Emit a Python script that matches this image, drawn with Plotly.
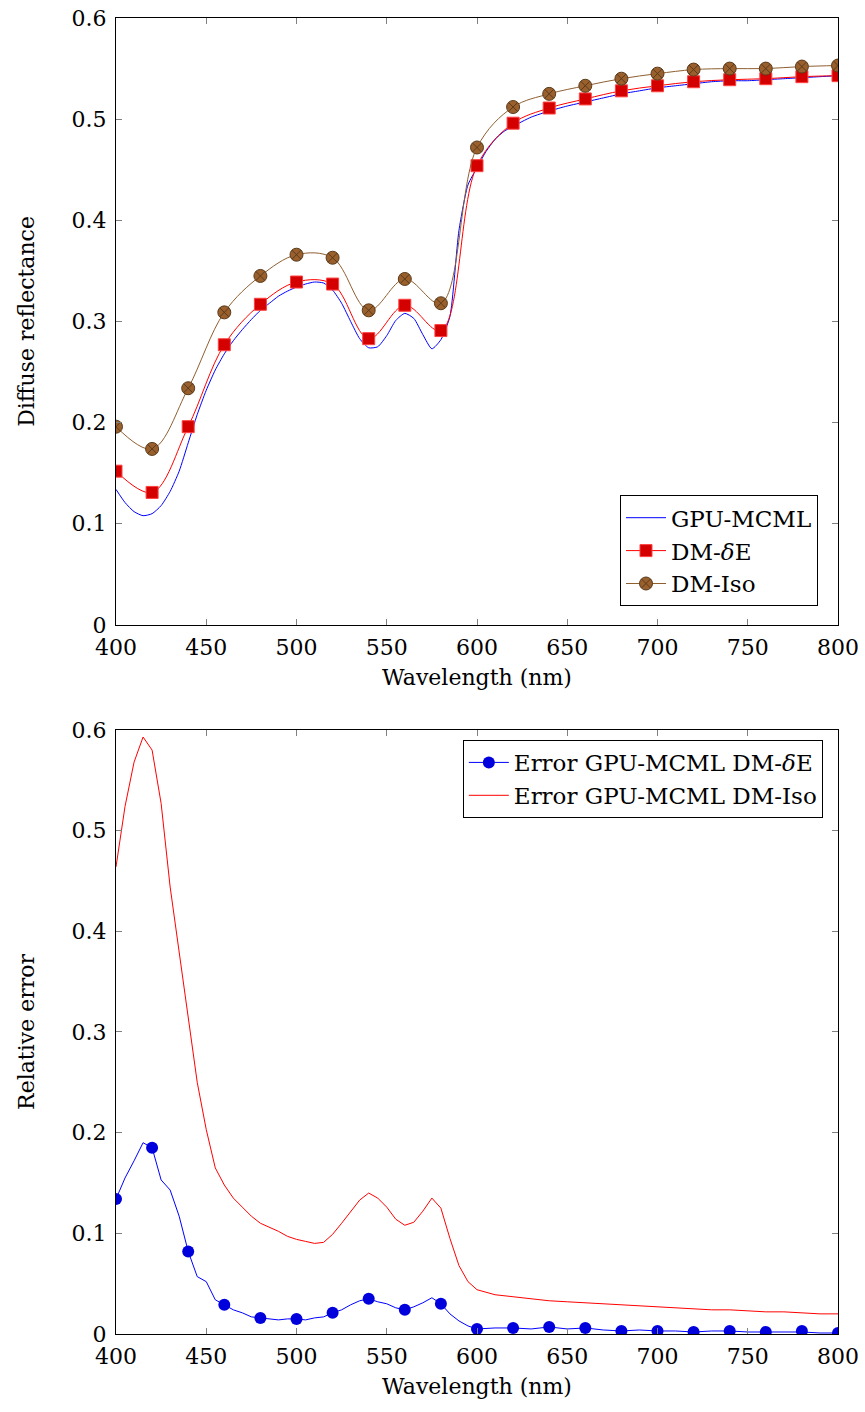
import plotly.graph_objects as go
from plotly.subplots import make_subplots

# ---------------- data ----------------
wl_marks = [400, 420, 440, 460, 480, 500, 520, 540, 560, 580, 600,
            620, 640, 660, 680, 700, 720, 740, 760, 780, 800]
dm_de = [0.152, 0.131, 0.196, 0.277, 0.317, 0.339, 0.337, 0.283, 0.316, 0.291, 0.454,
         0.496, 0.511, 0.520, 0.528, 0.533, 0.537, 0.539, 0.540, 0.542, 0.543]
dm_iso = [0.196, 0.174, 0.234, 0.309, 0.345, 0.366, 0.363, 0.311, 0.342, 0.318, 0.472,
          0.512, 0.525, 0.533, 0.540, 0.545, 0.549, 0.550, 0.550, 0.552, 0.553]

wl_fine = [400, 405, 410, 415, 420, 425, 430, 435, 440, 445, 450, 455, 460, 465, 470,
           475, 480, 485, 490, 495, 500, 505, 510, 515, 520, 525, 530, 535, 540, 545,
           550, 555, 560, 565, 570, 575, 580, 585, 590, 595, 600, 605, 610, 615, 620,
           630, 640, 650, 660, 670, 680, 690, 700, 710, 720, 730, 740, 750, 760, 770,
           780, 790, 800]
gpu_mcml = [0.134, 0.121, 0.112, 0.108, 0.110, 0.118, 0.132, 0.152, 0.180, 0.208,
            0.232, 0.252, 0.268, 0.281, 0.292, 0.302, 0.311, 0.318, 0.325, 0.330,
            0.334, 0.337, 0.339, 0.338, 0.331, 0.318, 0.300, 0.283, 0.274, 0.275,
            0.286, 0.301, 0.308, 0.303, 0.287, 0.273, 0.282, 0.305, 0.390, 0.435,
            0.452, 0.468, 0.480, 0.488, 0.493, 0.502, 0.508, 0.513, 0.517, 0.521,
            0.525, 0.528, 0.531, 0.533, 0.535, 0.537, 0.538, 0.538, 0.539, 0.540,
            0.541, 0.542, 0.543]

wl_err = [400, 405, 410, 415, 420, 425, 430, 435, 440, 445, 450, 455, 460, 465, 470,
          475, 480, 485, 490, 495, 500, 505, 510, 515, 520, 525, 530, 535, 540, 545,
          550, 555, 560, 565, 570, 575, 580, 585, 590, 595, 600, 610, 620, 630, 640,
          650, 660, 670, 680, 690, 700, 710, 720, 730, 740, 750, 760, 770, 780, 790, 800]
err_de = [0.134, 0.155, 0.172, 0.190, 0.185, 0.153, 0.143, 0.117, 0.082, 0.057,
          0.052, 0.034, 0.029, 0.024, 0.021, 0.017, 0.016, 0.015, 0.014, 0.015,
          0.015, 0.014, 0.016, 0.017, 0.021, 0.024, 0.029, 0.033, 0.035, 0.032,
          0.030, 0.026, 0.024, 0.027, 0.031, 0.036, 0.030, 0.020, 0.013, 0.008,
          0.005, 0.006, 0.006, 0.005, 0.007, 0.005, 0.006, 0.004, 0.003, 0.004,
          0.003, 0.003, 0.002, 0.003, 0.003, 0.002, 0.002, 0.002, 0.002, 0.001, 0.001]
err_iso = [0.464, 0.524, 0.568, 0.593, 0.580, 0.527, 0.444, 0.378, 0.312, 0.250,
           0.203, 0.165, 0.148, 0.135, 0.126, 0.117, 0.110, 0.106, 0.102, 0.097,
           0.094, 0.092, 0.090, 0.091, 0.099, 0.110, 0.121, 0.133, 0.140, 0.135,
           0.126, 0.114, 0.108, 0.111, 0.122, 0.135, 0.125, 0.095, 0.068, 0.052,
           0.044, 0.039, 0.037, 0.035, 0.033, 0.032, 0.031, 0.030, 0.029, 0.028,
           0.027, 0.026, 0.025, 0.024, 0.024, 0.023, 0.022, 0.022, 0.021, 0.020, 0.020]
err_de_marks = [0.134, 0.185, 0.082, 0.029, 0.016, 0.015, 0.021, 0.035, 0.024, 0.030,
                0.005, 0.006, 0.007, 0.006, 0.003, 0.003, 0.002, 0.003, 0.002, 0.003, 0.001]

x_ticks = [400, 450, 500, 550, 600, 650, 700, 750, 800]
x_ticklabels = ["400", "450", "500", "550", "600", "650", "700", "750", "800"]
y_ticks = [0, 0.1, 0.2, 0.3, 0.4, 0.5, 0.6]
y_ticklabels = ["0", "0.1", "0.2", "0.3", "0.4", "0.5", "0.6"]

# ---------------- figure ----------------
FONT = "DejaVu Serif"
FS = 22
FL = 23
BLUE = "#0000ff"
RED = "#ff0000"
BROWN = "#8f5f30"

fig = make_subplots(rows=2, cols=1)

# Top panel
fig.add_trace(go.Scatter(x=wl_fine, y=gpu_mcml, mode="lines", name="GPU-MCML",
                         line=dict(color=BLUE, width=1, shape="spline", smoothing=0.6),
                         legend="legend"), row=1, col=1)
fig.add_trace(go.Scatter(x=wl_marks, y=dm_de, mode="lines+markers", name="DM-<i>δ</i>E",
                         line=dict(color=RED, width=1, shape="spline", smoothing=1.0),
                         marker=dict(symbol="square", size=12, color="#d40000",
                                     line=dict(color="#ff4040", width=1)),
                         legend="legend"), row=1, col=1)
fig.add_trace(go.Scatter(x=wl_marks, y=dm_iso, mode="lines+markers", name="DM-Iso",
                         line=dict(color=BROWN, width=1, shape="spline", smoothing=1.0),
                         marker=dict(symbol="circle-x", size=13, color="#99602e",
                                     line=dict(color="#5a3a1a", width=1)),
                         legend="legend"), row=1, col=1)

# Bottom panel
fig.add_trace(go.Scatter(x=wl_err, y=err_de, mode="lines", showlegend=False,
                         line=dict(color=BLUE, width=1)), row=2, col=1)
fig.add_trace(go.Scatter(x=wl_marks, y=err_de_marks, mode="markers", showlegend=False,
                         marker=dict(symbol="circle", size=12, color="#0000dd")),
              row=2, col=1)
fig.add_trace(go.Scatter(x=[None], y=[None], mode="lines+markers",
                         name="Error GPU-MCML DM-<i>δ</i>E",
                         line=dict(color=BLUE, width=1),
                         marker=dict(symbol="circle", size=12, color="#0000dd"),
                         legend="legend2"), row=2, col=1)
fig.add_trace(go.Scatter(x=wl_err, y=err_iso, mode="lines",
                         name="Error GPU-MCML DM-Iso",
                         line=dict(color=RED, width=1),
                         legend="legend2"), row=2, col=1)

axis_common = dict(showline=True, linecolor="black", linewidth=1, mirror="allticks",
                   ticks="inside", ticklen=6, tickcolor="#808080", tickwidth=1,
                   showgrid=False, zeroline=False, automargin=False,
                   tickfont=dict(family=FONT, size=FS, color="black"))

for r, dom in [(1, [0.5388, 1.0]), (2, [0.0, 0.459])]:
    fig.update_xaxes(range=[400, 800], tickvals=x_ticks, ticktext=x_ticklabels,
                     ticklabelstandoff=3,
                     title=dict(text="Wavelength (nm)", font=dict(family=FONT, size=FS, color="black"),
                                standoff=10),
                     row=r, col=1, **axis_common)
    fig.update_yaxes(range=[0, 0.6], tickvals=y_ticks, ticktext=y_ticklabels, domain=dom,
                     ticklabelstandoff=4,
                     row=r, col=1, **axis_common)

fig.update_yaxes(title=dict(text="Diffuse reflectance", font=dict(family=FONT, size=FS, color="black"),
                            standoff=30), row=1, col=1)
fig.update_yaxes(title=dict(text="Relative error", font=dict(family=FONT, size=FS, color="black"),
                            standoff=30), row=2, col=1)

legend_common = dict(bgcolor="white", bordercolor="black", borderwidth=1,
                     font=dict(family=FONT, size=FL, color="black"),
                     xanchor="right", tracegroupgap=0, itemwidth=40)

fig.update_layout(
    width=865, height=1412,
    margin=dict(l=116, r=27, t=18, b=78),
    paper_bgcolor="white", plot_bgcolor="white",
    legend=dict(x=0.9723, y=0.553, yanchor="bottom", **legend_common),
    legend2=dict(x=0.979, y=0.4514, yanchor="top", **legend_common),
)

fig.write_html("out.html")
